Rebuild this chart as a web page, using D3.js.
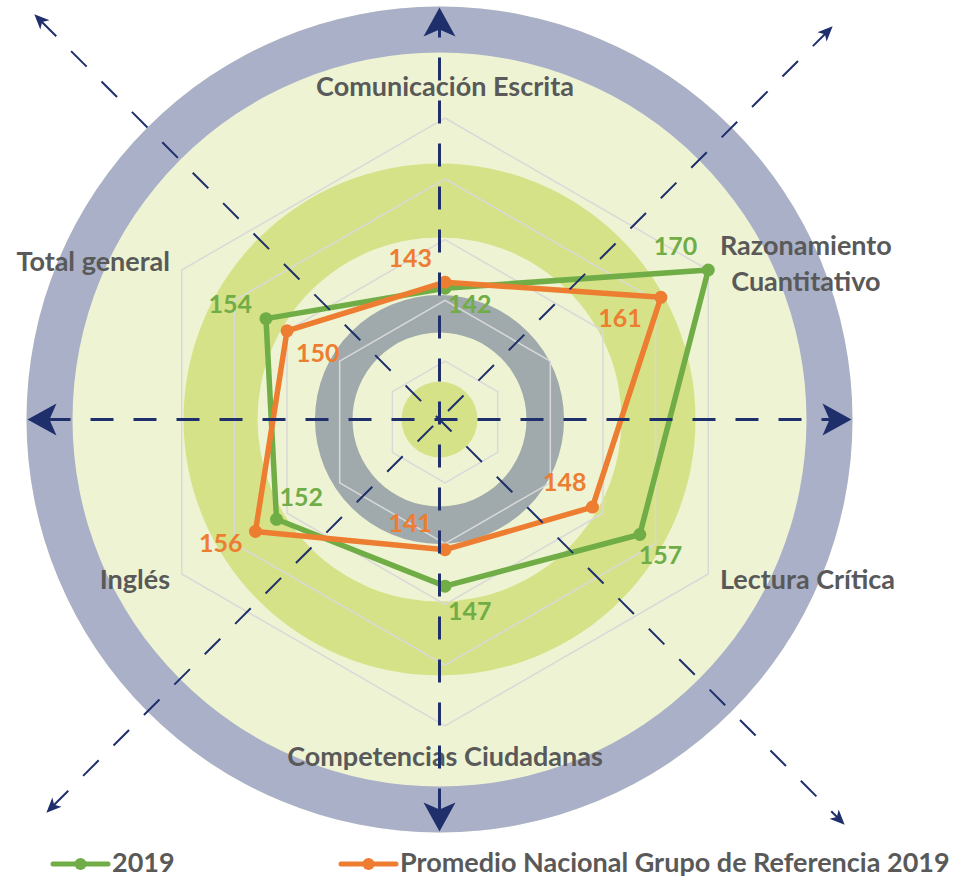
<!DOCTYPE html>
<html>
<head>
<meta charset="utf-8">
<script src="https://cdn.jsdelivr.net/npm/d3@7"></script>
<style>
  body { margin: 0; background: #fff; }
  svg { display: block; font-family: Lato, "Open Sans", sans-serif; }
</style>
</head>
<body>
<div id="chart"></div>
<script>
// chart data
const CATEGORIES = [
  "Comunicación Escrita",
  "Razonamiento Cuantitativo",
  "Lectura Crítica",
  "Competencias Ciudadanas",
  "Inglés",
  "Total general",
];
const SERIES_NAMES = ["2019", "Promedio Nacional Grupo de Referencia 2019"];
const VALUES_2019 = [142, 170, 157, 147, 152, 154];
const VALUES_PROMEDIO = [143, 161, 148, 141, 156, 150];
const RING_TICKS = [130, 140, 150, 160, 170];
const SCALE_MIN = 120;

// where each value label sits relative to its point: [dx, dy, anchor]
const LABEL_PLACE_2019 = [
  [3, 25, "start"], [-11, -15, "end"], [-1, 30, "start"],
  [3, 34, "start"], [3, -13, "start"], [-14, -6, "end"],
];
const LABEL_PLACE_PROMEDIO = [
  [-13, -15, "end"], [-19, 30, "end"], [-6, -16, "end"],
  [-13, -18, "end"], [-13, 21, "end"], [9, 31, "start"],
];

const WIDTH = 959;
const HEIGHT = 878;
const CENTER = { x: 445, y: 422 }; // radar center
const DECO = { x: 439.5, y: 419.5 }; // background circles / arrows center
const RADIUS = 304;

const COLORS = Object.freeze({
  green: "#70ad47",
  orange: "#ed7d31",
  text: "#595959",
  navy: "#1e2f6b",
  grid: "#d9d9d9",
});

const svg = d3
  .select("#chart")
  .append("svg")
  .attr("width", WIDTH)
  .attr("height", HEIGHT);

const r = d3.scaleLinear().domain([SCALE_MIN, d3.max(RING_TICKS)]).range([0, RADIUS]);
const angleOf = (i) => (i * 2 * Math.PI) / CATEGORIES.length;
const px = (i, rad) => CENTER.x + rad * Math.sin(angleOf(i));
const py = (i, rad) => CENTER.y - rad * Math.cos(angleOf(i));

// background decoration
const deco = svg.append("g").attr("transform", `translate(${DECO.x},${DECO.y})`);
const ring = (inner, outer, fill) =>
  deco
    .append("path")
    .attr("d", d3.arc()({ innerRadius: inner, outerRadius: outer, startAngle: 0, endAngle: 2 * Math.PI }))
    .attr("fill", fill);
deco.append("circle").attr("r", 413).attr("fill", "#eef4d3");
ring(367, 413, "#aab0c8");
ring(182, 256, "#d6e288");
ring(87, 124.5, "#a0a9ab");
deco.append("circle").attr("r", 38).attr("fill", "#d6e288");

// hexagon grid
const radial = d3
  .lineRadial()
  .angle((d, i) => angleOf(i))
  .radius((d) => r(d))
  .curve(d3.curveLinearClosed);

const plot = svg.append("g").attr("transform", `translate(${CENTER.x},${CENTER.y})`);
plot
  .selectAll(".grid")
  .data(RING_TICKS)
  .enter()
  .append("path")
  .classed("grid", true)
  .attr("d", (t) => radial(CATEGORIES.map(() => t)))
  .attr("fill", "none")
  .attr("stroke", COLORS.grid)
  .attr("stroke-width", 1.5);

// category labels
const catLayer = svg.append("g");
CATEGORIES.forEach((name, i) => {
  const s = Math.sin(angleOf(i));
  const c = Math.cos(angleOf(i));
  const lines = name === "Razonamiento Cuantitativo" ? name.split(" ") : [name];
  const t = catLayer
    .append("text")
    .attr("fill", COLORS.text)
    .attr("font-weight", 700)
    .attr("font-size", 27);
  if (Math.abs(s) < 0.01) {
    const x = px(i, 326);
    const y = c > 0 ? py(i, 326) : py(i, 326) + 18;
    t.attr("x", x).attr("y", y).attr("text-anchor", "middle").text(name);
  } else {
    const x = px(i, 317.5);
    const y = py(i, 317.5);
    const anchor = s > 0 ? "start" : "end";
    if (lines.length === 1) {
      t.attr("x", x).attr("y", y + 8).attr("text-anchor", anchor).text(name);
    } else {
      const spans = lines.map((l, k) =>
        t.append("tspan").attr("y", y - 8 + k * 36).text(l)
      );
      const w = d3.max(spans, (sp) => sp.node().getComputedTextLength());
      const mid = s > 0 ? x + w / 2 : x - w / 2;
      spans.forEach((sp) => sp.attr("x", mid).attr("text-anchor", "middle"));
    }
  }
});

// dashed axes with arrowheads
const axes = svg.append("g");
const drawArrowAxis = (deg, len, big) => {
  const a = (deg * Math.PI) / 180;
  const ux = Math.sin(a);
  const uy = -Math.cos(a);
  const arrowLen = big ? 29 : 15;
  const notch = big ? 22 : 11;
  const half = big ? 16 : 6.5;
  const ends = [1, -1].map((sgn) => ({
    x: DECO.x + sgn * ux * len,
    y: DECO.y + sgn * uy * len,
    rot: deg + (sgn > 0 ? 0 : 180),
  }));
  axes
    .append("line")
    .attr("x1", ends[1].x + ux * (notch - 2))
    .attr("y1", ends[1].y + uy * (notch - 2))
    .attr("x2", ends[0].x - ux * (notch - 2))
    .attr("y2", ends[0].y - uy * (notch - 2))
    .attr("stroke", COLORS.navy)
    .attr("stroke-width", big ? 3 : 2)
    .attr("stroke-dasharray", big ? "23 20" : "22 21");
  ends.forEach((e) => {
    axes
      .append("path")
      .attr("d", `M0,0 L${half},${arrowLen} L0,${notch} L${-half},${arrowLen} Z`)
      .attr("transform", `translate(${e.x},${e.y}) rotate(${e.rot})`)
      .attr("fill", COLORS.navy);
  });
};
[0, 90].forEach((d) => drawArrowAxis(d, 412, true));
drawArrowAxis(135, 573, false);
drawArrowAxis(45, 556, false);

// series
const series = [
  { name: SERIES_NAMES[0], values: VALUES_2019, color: COLORS.green, place: LABEL_PLACE_2019 },
  { name: SERIES_NAMES[1], values: VALUES_PROMEDIO, color: COLORS.orange, place: LABEL_PLACE_PROMEDIO },
];

series.forEach((s) => {
  plot
    .append("path")
    .attr("d", radial(s.values))
    .attr("fill", "none")
    .attr("stroke", s.color)
    .attr("stroke-width", 5.5)
    .attr("stroke-linejoin", "round");
  plot
    .selectAll(null)
    .data(s.values)
    .enter()
    .append("circle")
    .attr("cx", (d, i) => px(i, r(d)) - CENTER.x)
    .attr("cy", (d, i) => py(i, r(d)) - CENTER.y)
    .attr("r", 6.5)
    .attr("fill", s.color);
});

// value labels
series.forEach((s) => {
  svg
    .append("g")
    .selectAll("text")
    .data(s.values)
    .enter()
    .append("text")
    .attr("x", (d, i) => px(i, r(d)) + s.place[i][0])
    .attr("y", (d, i) => py(i, r(d)) + s.place[i][1])
    .attr("text-anchor", (d, i) => s.place[i][2])
    .attr("fill", s.color)
    .attr("font-weight", 700)
    .attr("font-size", 25)
    .text((d) => d);
});

// legend
const legendX = [53, 341];
const legend = svg.append("g").attr("transform", "translate(0,864)");
series.forEach((s, k) => {
  const g = legend.append("g").attr("transform", `translate(${legendX[k]},0)`);
  g.append("line")
    .attr("x1", 0)
    .attr("x2", 55)
    .attr("stroke", s.color)
    .attr("stroke-width", 5)
    .attr("stroke-linecap", "round");
  g.append("circle").attr("cx", 27.5).attr("r", 6).attr("fill", s.color);
  g.append("text")
    .attr("x", 59)
    .attr("y", 8)
    .attr("fill", COLORS.text)
    .attr("font-weight", 700)
    .attr("font-size", 27)
    .text(s.name);
});
</script>
</body>
</html>
